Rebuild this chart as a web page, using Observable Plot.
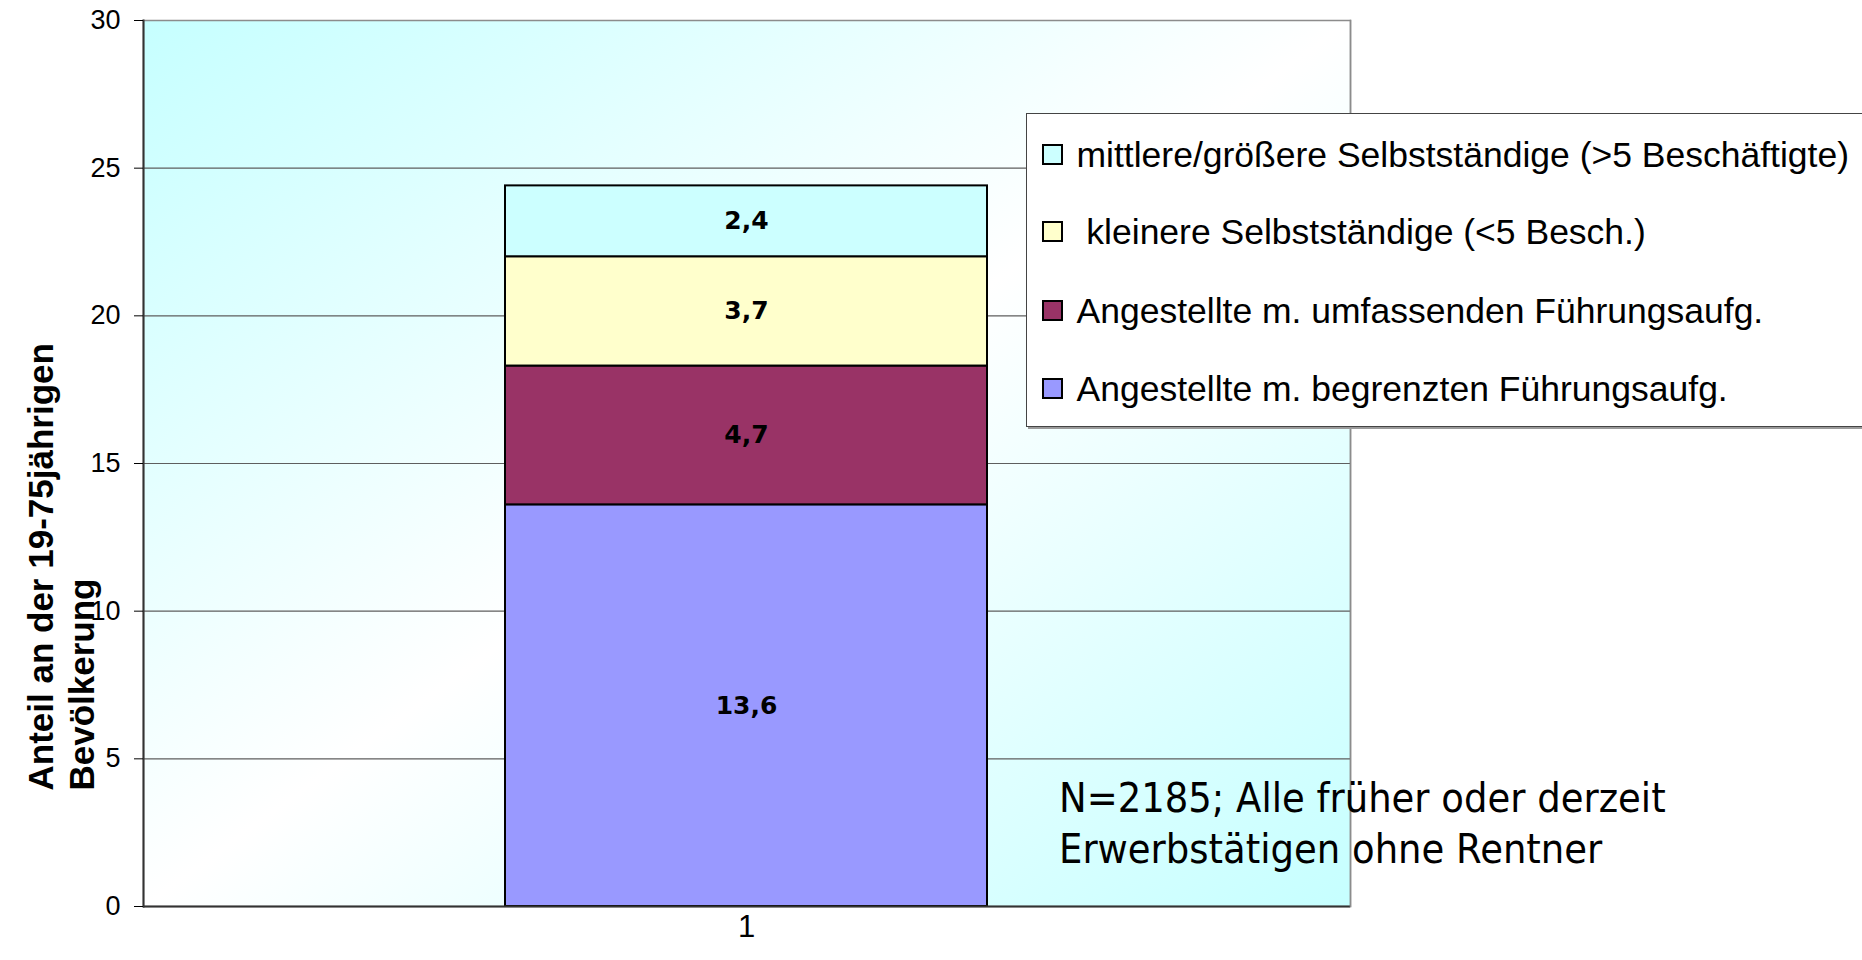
<!DOCTYPE html>
<html>
<head>
<meta charset="utf-8">
<script src="https://cdn.jsdelivr.net/npm/d3@7"></script>
<script src="https://cdn.jsdelivr.net/npm/@observablehq/plot@0.6"></script>
<style>
html, body { margin: 0; padding: 0; background: #fff; overflow: hidden; }
#wrap { position: relative; width: 1862px; height: 960px; overflow: hidden; }
#legend { position: absolute; left: 1026px; top: 113px; width: 880px; height: 312px;
  border: 1.5px solid #444; background: #fff; box-shadow: 2px 2px 0 #9a9a9a;
  font-family: "Liberation Sans", Arial, sans-serif; font-size: 35.5px; color: #000; }
.row { position: absolute; left: 0; height: 40px; width: 880px; }
.sw { position: absolute; left: 14.5px; top: 9.5px; width: 17px; height: 17px; border: 2px solid #000; }
.lbl { position: absolute; left: 49.5px; top: 0; line-height: 40px; white-space: pre; }
#note { position: absolute; left: 1059px; top: 773px; font-family: "DejaVu Sans", Verdana, sans-serif;
  font-size: 40px; line-height: 51px; color: #000; white-space: pre;
  transform: scaleX(0.925); transform-origin: 0 0; }
</style>
</head>
<body>
<div id="wrap"></div>
<script>
// ---- data ----
const category = ["1"];
const series = [
  "Angestellte m. begrenzten Führungsaufg.",
  "Angestellte m. umfassenden Führungsaufg.",
  " kleinere Selbstständige (<5 Besch.)",
  "mittlere/größere Selbstständige (>5 Beschäftigte)"
];
const values = [13.6, 4.7, 3.7, 2.4];
const colors = ["#9999FF", "#993366", "#FFFFCC", "#CCFFFF"];
const yTicks = [0, 5, 10, 15, 20, 25, 30];
const yTitle = "Anteil an der 19-75jährigen\nBevölkerung";
const noteText = "N=2185; Alle früher oder derzeit\nErwerbstätigen ohne Rentner";

const data = series.map((s, i) => ({cat: category[0], series: s, value: values[i]}));
const fmt = v => v.toFixed(1).replace(".", ",");

const chart = Plot.plot({
  width: 1862,
  height: 960,
  marginLeft: 143,
  marginRight: 512,
  marginTop: 20,
  marginBottom: 54,
  style: {fontFamily: "'Liberation Sans', Arial, sans-serif", fontSize: "26px", color: "#000", background: "transparent", overflow: "visible"},
  x: {domain: category, padding: 0.4286, label: null},
  y: {domain: [0, 30], label: null},
  color: {domain: series, range: colors},
  marks: [
    Plot.frame({fill: "url(#bg)", stroke: "#8c8c8c", strokeWidth: 1.5}),
    Plot.ruleY(yTicks.filter(d => d > 0 && d < 30), {stroke: "#5e5e5e", strokeWidth: 1.2}),
    Plot.barY(data, {x: "cat", y: "value", fill: "series", stroke: "#000", strokeWidth: 2}),
    Plot.text(data, Plot.stackY({x: "cat", y: "value", z: "series", text: d => fmt(d.value),
      fontFamily: "'DejaVu Sans', Verdana, sans-serif", fontWeight: "bold", fontSize: 25, fill: "#000"})),
    Plot.ruleY([0], {stroke: "#333", strokeWidth: 2}),
    Plot.frame({anchor: "left", stroke: "#333", strokeWidth: 2}),
    Plot.frame({anchor: "right", stroke: "#8c8c8c", strokeWidth: 1.5}),
    Plot.axisY({ticks: yTicks, tickSize: 9, tickPadding: 14, fontSize: 27, label: null, stroke: "#000"}),
    Plot.axisX({tickSize: 0, tickPadding: 8, fontSize: 31, label: null}),
    Plot.text([yTitle], {frameAnchor: "bottom-left", rotate: -90, textAnchor: "start", lineAnchor: "middle",
      dx: -83, dy: -116, fontWeight: "bold", fontSize: 35, lineHeight: 1.18, fill: "#000"})
  ]
});

d3.select(chart).insert("defs", ":first-child").html(
  '<linearGradient id="bg" x1="0" y1="0" x2="1" y2="1">' +
  '<stop offset="0" stop-color="#C6FFFF"/>' +
  '<stop offset="0.5" stop-color="#FFFFFF"/>' +
  '<stop offset="1" stop-color="#C6FFFF"/></linearGradient>'
);

const wrap = document.getElementById("wrap");
wrap.appendChild(chart);

// legend (top to bottom = reverse stack order)
const legend = document.createElement("div");
legend.id = "legend";
const rowCenters = [40.5, 117.5, 196.5, 274.5];
series.slice().reverse().forEach((s, i) => {
  const row = document.createElement("div");
  row.className = "row";
  row.style.top = (rowCenters[i] - 20) + "px";
  const sw = document.createElement("div");
  sw.className = "sw";
  sw.style.background = colors[series.length - 1 - i];
  const lbl = document.createElement("div");
  lbl.className = "lbl";
  lbl.textContent = s;
  row.appendChild(sw);
  row.appendChild(lbl);
  legend.appendChild(row);
});
wrap.appendChild(legend);

const note = document.createElement("div");
note.id = "note";
note.textContent = noteText;
wrap.appendChild(note);
</script>
</body>
</html>
